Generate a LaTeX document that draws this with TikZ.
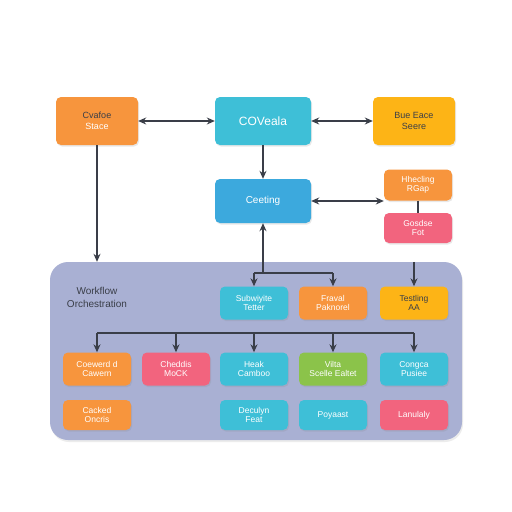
\documentclass[tikz,border=0pt]{standalone}
\usepackage{fontspec}
\setmainfont{Liberation Sans}
\usetikzlibrary{positioning,calc,shadows,arrows.meta}

\definecolor{orng}{HTML}{F7953D}
\definecolor{cyanb}{HTML}{3EBFD7}
\definecolor{sky}{HTML}{3CA9DD}
\definecolor{gold}{HTML}{FDB416}
\definecolor{rose}{HTML}{F2647E}
\definecolor{lime}{HTML}{8BC34A}
\definecolor{slate}{HTML}{A9B0D3}
\definecolor{ink}{HTML}{3A3E48}

\tikzset{
    box/.style={rectangle, rounded corners=5pt, text=white, align=center,
        font=\fontsize{8.5}{9.5}\selectfont, inner sep=1pt,
        drop shadow={opacity=0.18, shadow xshift=1pt, shadow yshift=-1.5pt}},
    big/.style={box, minimum width=82pt, minimum height=48pt, font=\fontsize{9}{10.5}\selectfont},
    mid/.style={box, minimum width=96pt, minimum height=46pt},
    small/.style={box, minimum width=68pt, minimum height=33pt},
    link/.style={draw=ink, line width=1.2pt},
}

\begin{document}
\begin{tikzpicture}[x=1pt, y=-1pt, >={Stealth[length=8pt,width=7pt]}]
\useasboundingbox[fill=white] (0,0) rectangle (512,512);

% panel
\path (256,351) node[rectangle, rounded corners=18pt, fill=slate,
    minimum width=412pt, minimum height=178pt,
    drop shadow={opacity=0.15, shadow xshift=1pt, shadow yshift=-2pt}] (flow) {};
\path (97,297) node[align=center, text=ink, font=\fontsize{10}{13}\selectfont] (lbl) {Workflow\\Orchestration};

% top row
\path (97,121) node[big, fill=orng] (stor) {\textcolor{ink}{Cvafoe}\\Stace};
\path (263,121) node[mid, minimum height=48pt, fill=cyanb, font=\fontsize{12}{13}\selectfont] (core) {COVeala};
\path (414,121) node[big, fill=gold, text=ink] (base) {Bue Eace\\Seere};

\path (263,201) node[mid, minimum height=44pt, fill=sky, font=\fontsize{10}{11}\selectfont] (cest) {Ceeting};
\path (418,185) node[small, minimum height=31pt, fill=orng] (heal) {Hhecling\\RGap};
\path (418,228) node[small, minimum height=30pt, fill=rose] (gose) {Gosdse\\Fot};

% rows inside the panel
\foreach \na / \x / \c / \t in {subw/254/cyanb/{Subwiyite\\Tetter}, frav/333/orng/{Fraval\\Paknorel}}
    \path (\x,303) node[small, fill=\c] (\na) {\t};
\path (414,303) node[small, fill=gold, text=ink] (test) {Testling\\AA};

\foreach \na / \x / \c / \t in {coew/97/orng/{Coewerd d\\Cawern}, ched/176/rose/{Cheddis\\MoCK},
        heak/254/cyanb/{Heak\\Camboo}, vilt/333/lime/{Vilta\\Scelle Ealtet}, cong/414/cyanb/{Congca\\Pusiee}}
    \path (\x,369) node[small, fill=\c] (\na) {\t};

\foreach \na / \x / \c / \t in {cack/97/orng/{Cacked\\Oncris}, decu/254/cyanb/{Deculyn\\Feat},
        poya/333/cyanb/{Poyaast}, lanu/414/rose/{Lanulaly}}
    \path (\x,415) node[small, minimum height=30pt, fill=\c] (\na) {\t};

% connectors
\draw[link, <->] (stor) -- (core);
\draw[link, <->] (core) -- (base);
\draw[link, ->] (core) -- (cest);
\draw[link, <->] (cest.east) -- (cest.east -| heal.west);
\draw[link] (heal) -- (gose);
\draw[link, ->] (stor) -- (stor |- flow.north);

\coordinate (fork) at (263,273);
\draw[link, ->] (cest |- flow.north) -- (cest);
\draw[link] (cest |- flow.north) -- (fork);
\draw[link] (subw |- fork) -- (frav |- fork);
\foreach \na in {subw,frav}
    \draw[link, ->] (\na |- fork) -- (\na);
\draw[link, ->] (test |- flow.north) -- (test);

\coordinate (bus) at (0,333);
\draw[link] (coew |- bus) -- (cong |- bus);
\foreach \na in {coew,ched,heak,vilt,cong}
    \draw[link, ->] (\na |- bus) -- (\na);
\end{tikzpicture}
\end{document}
